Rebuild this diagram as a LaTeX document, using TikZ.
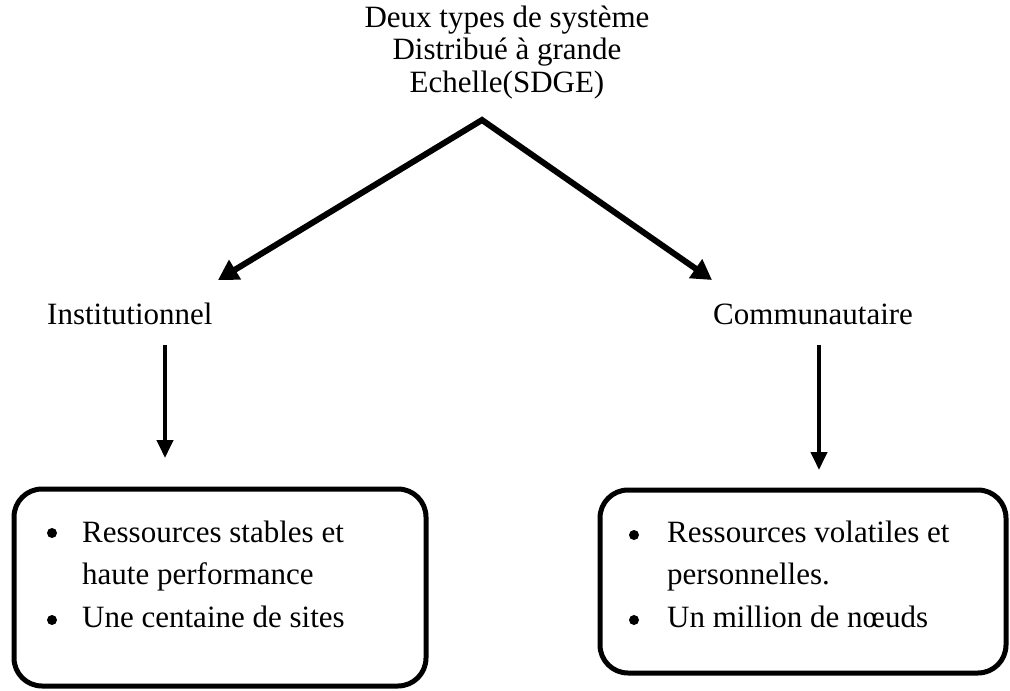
\documentclass[tikz,border=0pt]{standalone}
\usepackage{fontspec}
\setmainfont{Liberation Serif}
\usetikzlibrary{arrows.meta}
\begin{document}
\begin{tikzpicture}[x=1pt,y=-1pt,
  lbl/.style={inner sep=0pt,font=\fontsize{31}{32.5}\selectfont},
  itemtext/.style={lbl,align=left,font=\fontsize{31}{42.5}\selectfont},
  panel/.style={draw,line width=5pt,rounded corners=28pt,inner sep=0pt},
  dot/.style={circle,fill,inner sep=0pt,minimum size=10pt},
  headtip/.style={Triangle[length=20pt,width=22pt]},
  bigarrow/.style={line width=6pt,miter limit=10},
  downarrow/.style={line width=4pt,-{Triangle[length=18pt,width=16pt]}}]
\useasboundingbox (0,0) rectangle (1010,691);

% heading (base anchor sits on its last line)
\node[lbl,align=center,anchor=base] (title) at (507,92)
  {Deux types de système\\Distribué à grande\\Echelle(SDGE)};

% branching arrows from the heading
\coordinate (apex) at (482,120);
\coordinate (tipL) at (218,280);
\coordinate (tipR) at (712,280);
\draw[bigarrow,{Triangle[length=20pt,width=22pt]}-{Triangle[length=20pt,width=22pt]}]
  (tipL) -- (apex) -- (tipR);

% the two categories
\node[lbl,anchor=base west] (inst) at (47,324) {Institutionnel};
\node[lbl,anchor=base west] (comm) at (713,324) {Communautaire};

\coordinate (instS) at (165,345);
\coordinate (instE) at (165,458);
\coordinate (commS) at (819,345);
\coordinate (commE) at (819,470);
\draw[downarrow] (instS) -- (instE);
\draw[downarrow] (commS) -- (commE);

% left panel
\node[panel,minimum width=412pt,minimum height=197pt] (boxL) at (220,587.5) {};
\node[dot] (dL1) at (52,533) {};
\node[dot] (dL2) at (52,620) {};
\node[itemtext,anchor=base west] (txtL) at (82,627)
  {Ressources stables et\\haute performance\\Une centaine de sites};

% right panel
\node[panel,minimum width=406pt,minimum height=183pt] (boxR) at (803,581.5) {};
\node[dot] (dR1) at (634,535) {};
\node[dot] (dR2) at (634,620) {};
\node[itemtext,anchor=base west] (txtR) at (667,627)
  {Ressources volatiles et\\personnelles.\\Un million de nœuds};
\end{tikzpicture}
\end{document}
